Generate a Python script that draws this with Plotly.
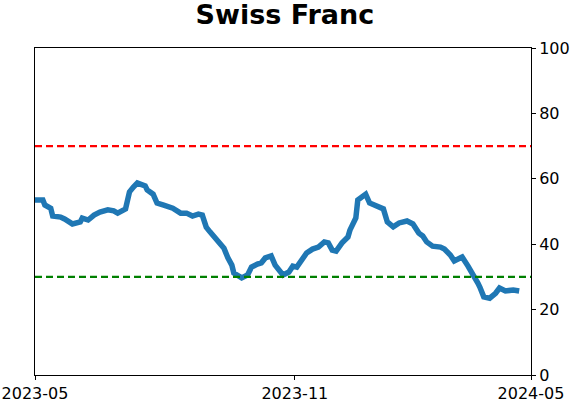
import plotly.graph_objects as go

# trading-day index (0 = 2023-05 start, 252 = 2024-05) and indicator value
day = [0, 4, 5, 8, 9, 13, 15, 19, 23, 24, 27, 30, 33, 37, 40, 42, 46, 48, 50, 52,
       56, 57, 60, 62, 65, 70, 74, 77, 80, 83, 85, 87, 89, 91, 94, 96, 98, 100, 101, 105,
       108, 110, 113, 115, 117, 120, 122, 123, 126, 129, 131, 133, 136, 138, 141, 144, 147, 149, 151, 153,
       156, 159, 160, 161, 163, 164, 168, 170, 174, 177, 179, 182, 185, 189, 192, 195, 197, 199, 202, 206,
       208, 211, 213, 217, 220, 222, 225, 226, 228, 231, 234, 236, 239, 243, 246]
value = [53.5, 53.5, 52.0, 51.0, 48.6, 48.3, 47.7, 46.2, 46.8, 48.0, 47.4, 48.9, 49.8, 50.5, 50.2, 49.5, 50.8, 56.0, 57.5, 58.7,
         57.8, 56.6, 55.3, 52.6, 52.0, 51.0, 49.5, 49.5, 48.6, 49.2, 48.9, 45.2, 43.7, 42.2, 40.4, 38.8, 35.8, 33.6, 31.2, 29.7,
         30.6, 33.0, 33.9, 34.3, 35.8, 36.4, 33.6, 32.7, 30.6, 31.5, 33.3, 33.0, 35.8, 37.3, 38.5, 39.1, 40.7, 40.4, 38.2, 37.9,
         40.4, 42.2, 44.3, 45.9, 48.0, 53.5, 55.3, 52.6, 51.4, 50.8, 46.8, 45.3, 46.5, 47.1, 46.2, 43.4, 42.5, 40.7, 39.4, 39.1,
         38.5, 36.7, 34.9, 36.1, 33.3, 31.5, 28.1, 26.9, 23.9, 23.5, 25.0, 26.6, 25.7, 26.0, 25.7]

x_ticks = [0, 132, 252]
x_labels = ["2023-05", "2023-11", "2024-05"]
upper, lower = 70, 30

_FONT = "DejaVu Sans"

fig = go.Figure()
fig.add_hline(y=upper, line_color="#ff0000", line_width=2.2, line_dash="7px,4px")
fig.add_hline(y=lower, line_color="#008000", line_width=2.2, line_dash="7px,4px")
fig.add_trace(go.Scatter(
    x=day, y=value, mode="lines",
    line=dict(color="#1f77b4", width=5.5, shape="linear"),
))

fig.update_layout(
    width=571, height=402,
    paper_bgcolor="#FFFFFF", plot_bgcolor="#FFFFFF",
    font=dict(family=_FONT, color="#000000", size=16),
    margin=dict(l=35, r=40, t=48, b=27),
    showlegend=False,
    title=dict(text="<b>Swiss Franc</b>", x=0.499, xanchor="center",
               y=1 - 15 / 402, yanchor="middle", yref="container",
               font=dict(size=27, family=_FONT, color="#000000")),
    xaxis=dict(
        range=[0, 252], tickvals=x_ticks, ticktext=x_labels,
        showgrid=False, zeroline=False, automargin=False,
        ticklabeloverflow="allow",
        showline=True, linecolor="#000000", linewidth=1, mirror=True,
        ticks="outside", ticklen=4, tickcolor="#000000",
        tickfont=dict(size=16),
    ),
    yaxis=dict(
        range=[0, 100], tickvals=[0, 20, 40, 60, 80, 100], side="right",
        showgrid=False, zeroline=False, automargin=False,
        ticklabeloverflow="allow",
        showline=True, linecolor="#000000", linewidth=1, mirror=True,
        ticks="outside", ticklen=4, tickcolor="#000000",
        tickfont=dict(size=16),
    ),
)

# drop the browser's default 8px body margin so the figure sits at the page corner
fig.write_html("out.html", config={"displayModeBar": False},
               post_script="document.body.style.margin='0';")
